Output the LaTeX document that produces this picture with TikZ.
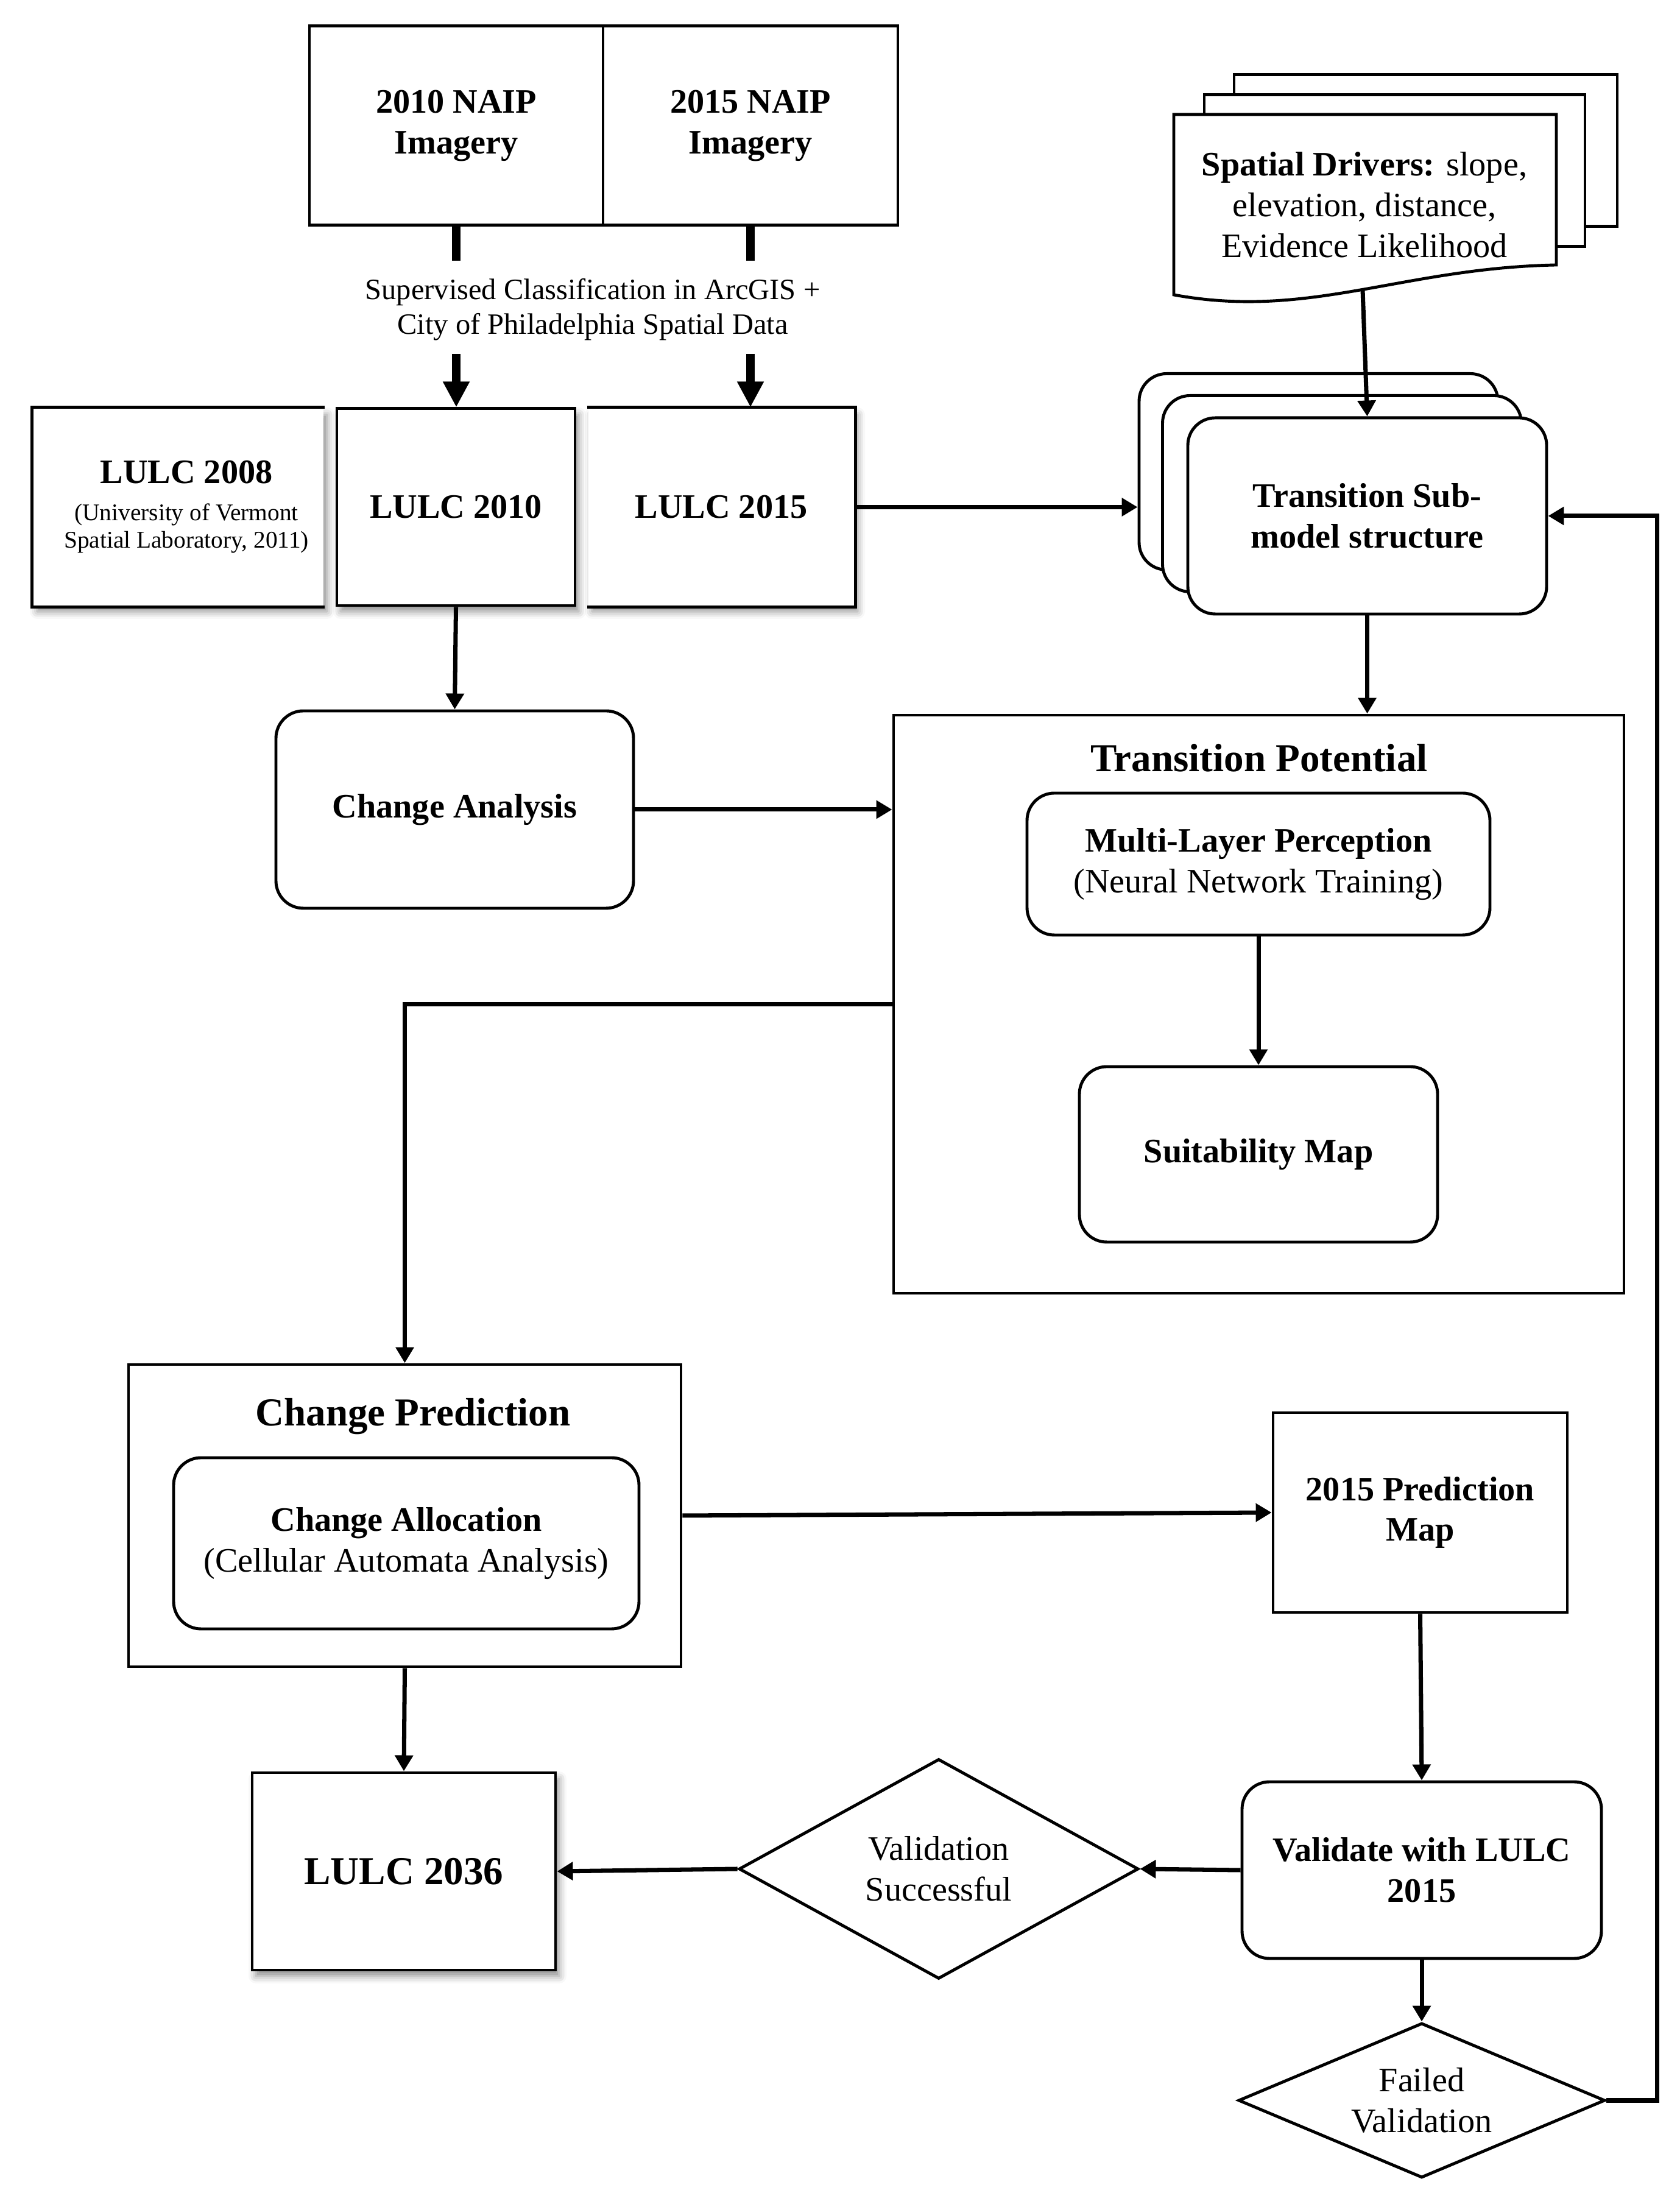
\documentclass[tikz,border=0pt]{standalone}
\usepackage{fontspec}
\setmainfont{Liberation Serif}
\usepackage{tikz}
\usetikzlibrary{shapes,shapes.geometric,shadows,shadows.blur,arrows,arrows.meta}
\newcommand{\flbold}{\fontsize{16}{19}\selectfont\bfseries}
\newcommand{\flhead}{\fontsize{18.5}{22}\selectfont\bfseries}
\newcommand{\flreg}{\fontsize{16}{19}\selectfont}
\newcommand{\flsmall}{\fontsize{11.2}{12.8}\selectfont\mdseries}
\newcommand{\fllabel}{\fontsize{13.8}{16.2}\selectfont}
\tikzstyle{flbox}=[rectangle, draw, line width=1.4pt, fill=white, align=center, font=\flbold]
\tikzstyle{flround}=[flbox, rounded corners=0.45cm]
\tikzstyle{flshade}=[blur shadow={shadow xshift=0.6mm, shadow yshift=-1mm, shadow blur radius=1.2mm, shadow opacity=45}]
\tikzstyle{fldecision}=[diamond, draw, line width=1.4pt, fill=white, inner sep=0pt, align=center, font=\flreg]
\tikzstyle{flarrow}=[draw, line width=2pt, -{Triangle[length=2.6mm,width=2.9mm]}]
\tikzstyle{flfat}=[draw, line width=4.2pt, -{Triangle[length=4.2mm,width=4.1mm]}]
\newcommand{\flbox}[5]{
	\node[flbox, minimum width=#3, minimum height=#4] (#1) at (#2) {#5};}
\newcommand{\flround}[5]{
	\node[flround, minimum width=#3, minimum height=#4] (#1) at (#2) {#5};}
\begin{document}
\begin{tikzpicture}
\useasboundingbox (0,0) rectangle (27.58,36);

% imagery and classification
\flbox{naip10}{7.49,33.935}{4.82cm}{3.27cm}{2010 NAIP\\Imagery}
\flbox{naip15}{12.32,33.935}{4.84cm}{3.27cm}{2015 NAIP\\Imagery}
\node[font=\fllabel, align=center] (classify) at (9.73,30.92) {Supervised Classification in ArcGIS +\\City of Philadelphia Spatial Data};
\coordinate (c10a) at (7.49,31.72);
\coordinate (c10b) at (7.49,30.19);
\coordinate (c15a) at (12.32,31.72);
\coordinate (c15b) at (12.32,30.19);

% land cover maps
\node[flbox, flshade, draw=none, minimum width=4.76cm, minimum height=3.23cm] (lulc08) at (2.93,27.675) {\hspace*{0.26cm}LULC 2008\\[-1.6pt]\hspace*{0.26cm}{\flsmall (University of Vermont}\\[-6.2pt]\hspace*{0.26cm}{\flsmall Spatial Laboratory, 2011)}};
\draw[line width=1.4pt] (lulc08.north east) -- (lulc08.north west) -- (lulc08.south west) -- (lulc08.south east);
\node[flbox, flshade, minimum width=3.91cm, minimum height=3.23cm] (lulc10) at (7.485,27.675) {LULC 2010};
\node[flbox, flshade, draw=none, minimum width=4.36cm, minimum height=3.23cm] (lulc15) at (11.84,27.675) {LULC 2015};
\draw[line width=1.4pt] (lulc15.north west) -- (lulc15.north east) -- (lulc15.south east) -- (lulc15.south west);

% spatial drivers
\draw[line width=1.4pt, fill=white] (20.26,34.77) rectangle (26.55,32.28);
\draw[line width=1.4pt, fill=white] (19.77,34.44) rectangle (26.02,31.95);
\draw[line width=1.4pt, fill=white] (19.27,34.12) -- (25.55,34.12) -- (25.55,31.65) .. controls (23.00,31.60) and (21.50,30.75) .. (19.27,31.16) -- cycle;
\node[font=\flreg, align=center] (drivers) at (22.40,32.635) {\textbf{Spatial Drivers:} slope,\\elevation, distance,\\Evidence Likelihood};
\coordinate (drivbot) at (22.37,31.24);

% sub-models
\flround{trans3}{21.645,28.255}{5.89cm}{3.22cm}{}
\flround{trans2}{22.03,27.895}{5.89cm}{3.22cm}{}
\flround{trans}{22.445,27.53}{5.89cm}{3.22cm}{Transition Sub-\\model structure}

\flround{ca}{7.465,22.71}{5.87cm}{3.24cm}{Change Analysis}

% transition potential
\flbox{tp}{20.665,19.515}{11.99cm}{9.49cm}{}
\node[font=\flhead] (tptitle) at (20.67,23.56) {Transition Potential};
\flround{mlp}{20.66,21.815}{7.60cm}{2.33cm}{Multi-Layer Perception\\\flreg\mdseries (Neural Network Training)}
\flround{suit}{20.66,17.05}{5.88cm}{2.88cm}{Suitability Map}

% change prediction
\flbox{cp}{6.645,11.12}{9.07cm}{4.96cm}{}
\node[font=\flhead] (cptitle) at (6.78,12.75) {Change Prediction};
\flround{calloc}{6.67,10.665}{7.64cm}{2.81cm}{Change Allocation\\\flreg\mdseries (Cellular Automata Analysis)}
\flbox{pred}{23.315,11.17}{4.83cm}{3.28cm}{2015 Prediction\\Map}

% validation
\flround{val}{23.34,5.30}{5.90cm}{2.90cm}{Validate with LULC\\2015}
\node[fldecision, aspect=1.82, minimum width=6.56cm, minimum height=3.61cm] (succ) at (15.41,5.32) {Validation\\Successful};
\node[fldecision, aspect=2.37, minimum width=6.02cm, minimum height=2.54cm] (fail) at (23.34,1.52) {Failed\\Validation};
\node[flbox, flshade, font=\flhead, minimum width=4.98cm, minimum height=3.24cm] (l36) at (6.63,5.28) {LULC 2036};
\coordinate (loop) at (27.20,1.52);

% connectors
\draw[line width=4.2pt] (naip10.south) -- (c10a);
\draw[line width=4.2pt] (c15a |- naip15.south) -- (c15a);
\draw[flfat] (c10b) -- (c10b |- lulc10.north);
\draw[flfat] (c15b) -- (c15b |- lulc15.north);
\draw[flarrow] (lulc15.east) -- (trans3.west |- lulc15.east);
\draw[flarrow] (drivbot) -- (trans.north);
\draw[flarrow] (trans.south) -- (trans.south |- tp.north);
\draw[flarrow] (lulc10.south) -- (ca.north);
\draw[flarrow] (ca.east) -- (ca.east -| tp.west);
\draw[flarrow] (mlp.south) -- (suit.north);
\draw[flarrow] (tp.west) -| (cp.north);
\draw[flarrow] (cp.east) -- (pred.west);
\draw[flarrow] (cp.south) -- (l36.north);
\draw[flarrow] (pred.south) -- (val.north);
\draw[flarrow] (val.west) -- (succ.east);
\draw[flarrow] (succ.west) -- (l36.east);
\draw[flarrow] (val.south) -- (fail.north);
\draw[flarrow] (fail.east) -- (loop) |- (trans.east);
\end{tikzpicture}
\end{document}
